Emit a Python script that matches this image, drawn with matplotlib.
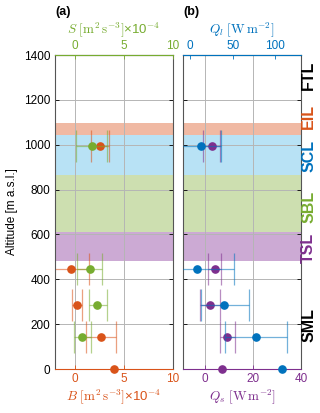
import matplotlib
matplotlib.use("Agg")
import matplotlib.pyplot as plt
import numpy as np

plt.rcParams['font.family'] = ['Liberation Sans', 'DejaVu Sans']
plt.rcParams['mathtext.fontset'] = 'cm'

# colours (MATLAB defaults)
c_b = '#d95319'
c_s = '#77ac30'
c_ql = '#0072bd'
c_qs = '#7e2f8e'

# layers
layer_names = ['FTL', 'EIL', 'SCL', 'SBL', 'TSL', 'SML']
layer_colors = ['black', c_b, c_ql, c_s, c_qs, 'black']
layer_label_alt = [1310, 1128, 950, 722, 540, 196]
band_bottom = [1045, 864, 612, 483]
band_top = [1096, 1045, 864, 612]
band_colors = ['#f0b9a3', '#b8e2f5', '#cddfb0', '#ccaad4']

# panel (a): buoyancy flux B and shear production S (x1e-4)
alt = [995, 445, 285, 142, 0]
B = [2.55, -0.35, 0.27, 2.65, 4.0]
B_lo = [1.63, -2.2, -0.24, 1.12, np.nan]
B_hi = [3.5, 1.46, 0.78, 4.2, np.nan]
alt_s = [995, 445, 285, 142]
S = [1.77, 1.53, 2.31, 0.75]
S_lo = [0.17, 0.24, 1.43, -0.1]
S_hi = [3.3, 2.82, 3.23, 1.67]

# panel (b): latent and sensible heat flux
Ql = [12.6, 8.2, 40.4, 77.6, 108]
Ql_lo = [-11, -35, 12.5, 41, np.nan]
Ql_hi = [36, 51, 68.6, 113, np.nan]
Qs = [2.9, 4.2, 2.1, 9.3, 7.1]
Qs_lo = [-0.7, 1.4, -2.1, 6.25, np.nan]
Qs_hi = [6.5, 6.9, 6.3, 12.5, np.nan]

fig = plt.figure(figsize=(3.2, 4.13), dpi=100)
axa = fig.add_axes([0.172, 0.1065, 0.369, 0.7603])
axb = fig.add_axes([0.572, 0.1065, 0.369, 0.7603])
axa2 = axa.twiny()
axb2 = axb.twiny()


def errbars(ax, x, y, lo, hi, color):
    x = np.array(x, float); y = np.array(y, float)
    lo = np.array(lo, float); hi = np.array(hi, float)
    ok = np.isfinite(lo)
    xerr = np.vstack([x[ok] - lo[ok], hi[ok] - x[ok]])
    ax.errorbar(x[ok], y[ok], xerr=xerr, fmt='none', ecolor=color, alpha=0.55,
                elinewidth=0.9, capsize=11.5, capthick=0.9, zorder=2)
    ax.plot(x, y, 'o', color=color, ms=5.2, zorder=4, clip_on=False)


for ax in (axa, axb):
    for lo, hi, col in zip(band_bottom, band_top, band_colors):
        ax.axhspan(lo, hi, color=col, lw=0, zorder=0)
    ax.set_ylim(0, 1400)
    ax.set_yticks(np.arange(0, 1401, 200))
    ax.set_axisbelow('line')
    ax.grid(True, color='#b5b5b5', lw=0.7)
    ax.tick_params(direction='in', length=3, labelsize=8.5, right=True, width=0.6)
    for sp in ('left', 'right'):
        ax.spines[sp].set_color('#555555')

errbars(axa, B, alt, B_lo, B_hi, c_b)
errbars(axa2, S, alt_s, S_lo, S_hi, c_s)
errbars(axb, Qs, alt, Qs_lo, Qs_hi, c_qs)
errbars(axb2, Ql, alt, Ql_lo, Ql_hi, c_ql)

axa.set_xlim(-2, 10)
axa.set_xticks([0, 5, 10])
axa2.set_xlim(-2, 10)
axa2.set_xticks([0, 5, 10])
axb.set_xlim(-9, 40)
axb.set_xticks([0, 20, 40])
axb2.set_xlim(-8, 130)
axb2.set_xticks([0, 50, 100])
axb.set_yticklabels([])
axa.set_ylabel('Altitude [m a.s.l.]', fontsize=8.5, labelpad=4)

for ax, col in ((axa, c_b), (axb, c_qs)):
    ax.spines['bottom'].set_color(col)
    ax.tick_params(axis='x', colors=col, labelcolor=col, pad=3)
for ax, col in ((axa2, c_s), (axb2, c_ql)):
    ax.spines['top'].set_color(col)
    ax.tick_params(axis='x', direction='in', length=3, colors=col, labelcolor=col,
                   labelsize=8.5, pad=2, width=0.6)
    ax.set_ylim(0, 1400)
    for sp in ('left', 'right', 'bottom'):
        ax.spines[sp].set_visible(False)

axa.set_xlabel(r'$B\ [\mathrm{m^2\,s^{-3}}]$' + '×10' + r'$^{\mathsf{-4}}$', color=c_b, fontsize=9.5, labelpad=1)
axa2.set_xlabel(r'$S\ [\mathrm{m^2\,s^{-3}}]$' + '×10' + r'$^{\mathsf{-4}}$', color=c_s, fontsize=9.5, labelpad=5)
axb.set_xlabel(r'$Q_s\ [\mathrm{W\,m^{-2}}]$', color=c_qs, fontsize=9.5, labelpad=1)
axb2.set_xlabel(r'$Q_l\ [\mathrm{W\,m^{-2}}]$', color=c_ql, fontsize=9.5, labelpad=5)

fig.text(0.172, 0.972, '(a)', fontsize=9, fontweight='bold', va='center')
fig.text(0.572, 0.972, '(b)', fontsize=9, fontweight='bold', va='center')

for name, col, a in zip(layer_names, layer_colors, layer_label_alt):
    axb.text(1.065, a, name, transform=axb.get_yaxis_transform(), rotation=90,
             color=col, fontsize=11.5, fontweight='bold', ha='center', va='center')

fig.savefig('out.png', dpi=100)
